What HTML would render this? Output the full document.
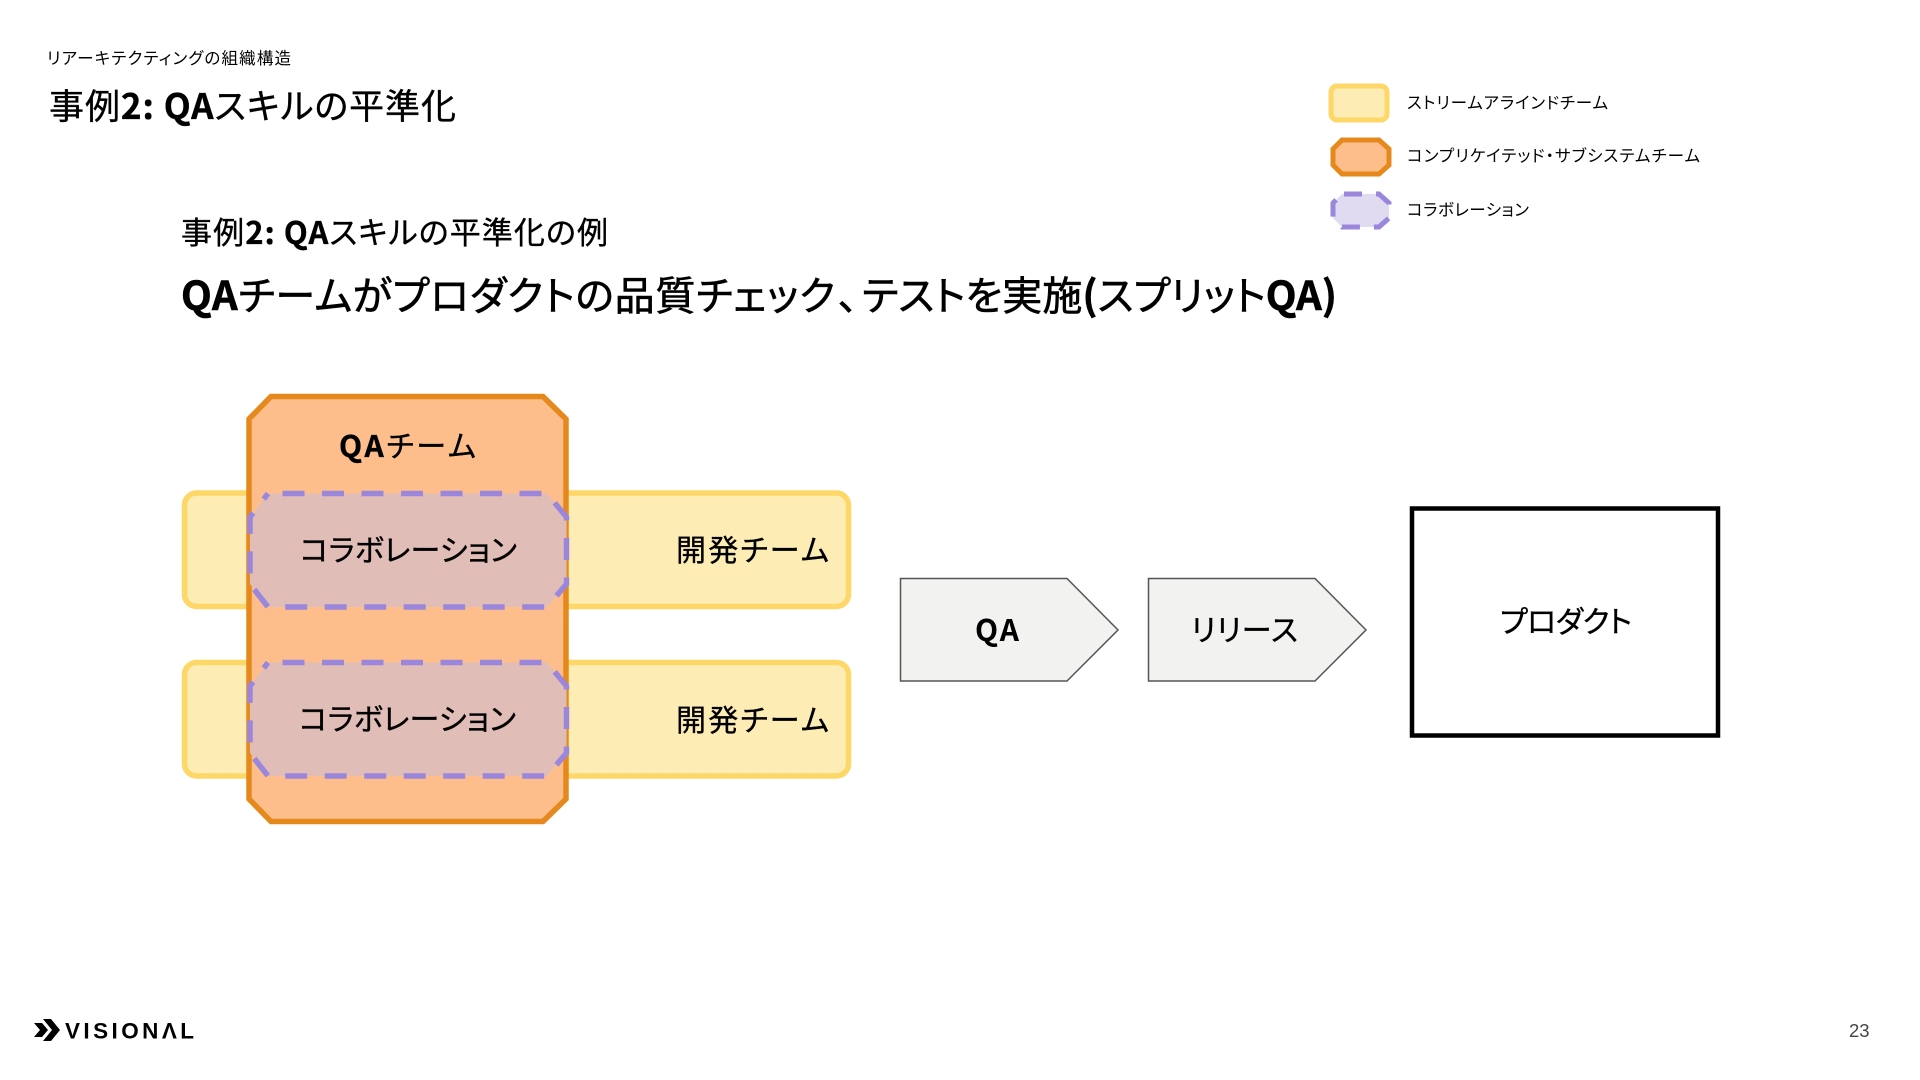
<!DOCTYPE html>
<html lang="ja"><head><meta charset="utf-8"><style>
html,body{margin:0;padding:0;background:#fff;width:1920px;height:1080px;overflow:hidden}
svg{display:block}
text{font-family:"Noto Sans CJK JP","Liberation Sans",sans-serif;font-feature-settings:"palt";fill:#000}
.b{font-weight:700}
.h{stroke:#000;stroke-width:.35px}
.h2{stroke:#000;stroke-width:.6px}
</style></head><body>
<svg width="1920" height="1080" viewBox="0 0 1920 1080" xmlns="http://www.w3.org/2000/svg">
<text x="47" y="64" font-size="16.5" textLength="244">リアーキテクティングの組織構造</text>
<text x="49" y="119" font-size="35" textLength="407" class="h">事例<tspan class="b">2: QA</tspan>スキルの平準化</text>
<text x="181" y="244" font-size="31" textLength="427" class="h">事例<tspan class="b">2: QA</tspan>スキルの平準化の例</text>
<text x="181" y="310" font-size="40" textLength="654" class="h2"><tspan class="b">QA</tspan>チームがプロダクトの品質チェック</text>
<text x="838" y="310" font-size="40" class="h2">、</text>
<text x="862" y="310" font-size="40" textLength="475" class="h2">テストを実施<tspan class="b">(</tspan>スプリット<tspan class="b">QA)</tspan></text>

<rect x="1331" y="86" width="56" height="34" rx="6" fill="#fdedb5" stroke="#fdd768" stroke-width="5"/>
<polygon points="1342,140 1379,140 1389,149 1389,165 1379,174 1342,174 1333,165 1333,149" fill="#fdbe8b" stroke="#e6891d" stroke-width="5"/>
<polygon points="1342,194 1379,194 1389,203 1389,218 1379,227 1342,227 1333,218 1333,203" fill="#e0dbf0" stroke="#9a87dc" stroke-width="5" stroke-dasharray="18 14" stroke-dashoffset="-2"/>
<text x="1407" y="108.500" font-size="16.5" textLength="201">ストリームアラインドチーム</text>
<text x="1407" y="161.500" font-size="16.5" textLength="293">コンプリケイテッド・サブシステムチーム</text>
<text x="1407" y="215.500" font-size="16.5" textLength="122">コラボレーション</text>

<rect x="184.500" y="493" width="664" height="113.500" rx="12" fill="#fdedb5" stroke="#fdd768" stroke-width="5.500"/>
<rect x="184.500" y="662.500" width="664" height="113.500" rx="12" fill="#fdedb5" stroke="#fdd768" stroke-width="5.500"/>
<polygon points="271,396.500 543,396.500 566,419 566,799 543,821.500 271,821.500 249,799 249,419" fill="#fdbe8b" stroke="#e6891d" stroke-width="5.500"/>

<path d="M268 493.500H547L566.500 517V584L547 607H268L250 584V517Z" fill="#e0bdb6" stroke="#9a87dc" stroke-width="5.500" stroke-dasharray="22 17.500" stroke-dashoffset="25"/>
<path d="M268 662.500H547L566.500 686V753L547 776H268L250 753V686Z" fill="#e0bdb6" stroke="#9a87dc" stroke-width="5.500" stroke-dasharray="22 17.500" stroke-dashoffset="25"/>

<text x="339" y="457" font-size="30" textLength="137" class="h"><tspan class="b">QA</tspan>チーム</text>
<text x="300" y="561" font-size="30" textLength="217" class="h">コラボレーション</text>
<text x="299" y="730" font-size="30" textLength="217" class="h">コラボレーション</text>
<text x="676" y="561" font-size="30" textLength="153" class="h">開発チーム</text>
<text x="676" y="731" font-size="30" textLength="153" class="h">開発チーム</text>

<polygon points="900.500,578.500 1067,578.500 1118,630 1067,681 900.500,681" fill="#f2f2f0" stroke="#555" stroke-width="1.500"/>
<polygon points="1148.500,578.500 1315,578.500 1366,630 1315,681 1148.500,681" fill="#f2f2f0" stroke="#555" stroke-width="1.500"/>
<text x="975" y="641" font-size="30" textLength="44" class="b">QA</text>
<text x="1191" y="641" font-size="30" textLength="107" class="h">リリース</text>

<rect x="1412" y="508.500" width="306" height="227" fill="#fff" stroke="#000" stroke-width="4.500"/>
<text x="1500" y="632.500" font-size="30" textLength="132" class="h">プロダクト</text>

<polygon points="34,1023 42,1023 48,1030 42,1037 34,1037 40,1030" fill="#000"/>
<polygon points="43,1019 51,1019 60,1030 51,1041 43,1041 52,1030" fill="#000"/>
<text x="65" y="1038.500" font-size="22.500" class="b" textLength="129" style="font-family:'Liberation Sans',sans-serif">VISIONΛL</text>
<text x="1849" y="1037" font-size="18.500" style="fill:#444;font-family:'Liberation Sans',sans-serif">23</text>
</svg>
</body></html>
